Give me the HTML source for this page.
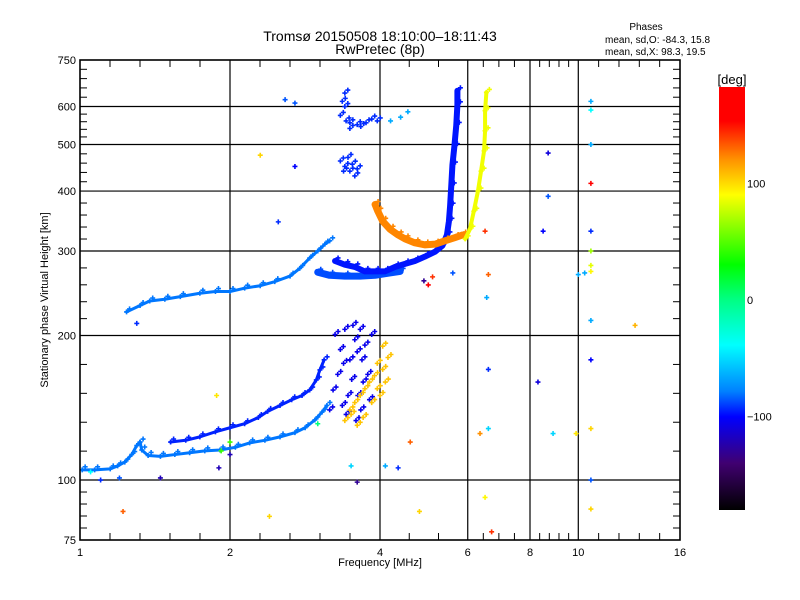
<!DOCTYPE html>
<html><head><meta charset="utf-8"><style>
html,body{margin:0;padding:0;background:#fff;}
svg{display:block;font-family:"Liberation Sans",sans-serif;}
</style></head><body>
<svg id="chart" width="800" height="600" viewBox="0 0 800 600">
<defs>
<linearGradient id="cbg" x1="0" y1="0" x2="0" y2="1">
<stop offset="0" stop-color="#ff0000"/><stop offset="0.08" stop-color="#ff0000"/>
<stop offset="0.17" stop-color="#ff9000"/><stop offset="0.255" stop-color="#ffff00"/>
<stop offset="0.42" stop-color="#00ff00"/><stop offset="0.5" stop-color="#00ff80"/>
<stop offset="0.61" stop-color="#00ffff"/><stop offset="0.72" stop-color="#0080ff"/>
<stop offset="0.78" stop-color="#0000ff"/><stop offset="0.89" stop-color="#400070"/>
<stop offset="1" stop-color="#000000"/></linearGradient>
</defs>
<g id="grid"></g>
<g id="marks"></g>
<g id="frame"></g>
<text x="380" y="41" font-size="14" text-anchor="middle">Tromsø 20150508 18:10:00–18:11:43</text>
<text x="380" y="54" font-size="14" text-anchor="middle">RwPretec (8p)</text>
<text x="646" y="30" font-size="10" text-anchor="middle">Phases</text>
<text x="605" y="43" font-size="10">mean, sd,O: -84.3, 15.8</text>
<text x="605" y="55" font-size="10">mean, sd,X:  98.3, 19.5</text>
<text x="380" y="566" font-size="11" text-anchor="middle">Frequency [MHz]</text>
<text transform="translate(48,300) rotate(-90)" font-size="11" text-anchor="middle">Stationary phase Virtual Height [km]</text>
<rect x="719" y="87" width="26" height="423" fill="url(#cbg)"/>
<text x="732" y="84" font-size="13" text-anchor="middle">[deg]</text>
<g id="cbticks" font-size="11"></g>
</svg>
<script>
// axis ranges
const xTickVals = [1, 2, 4, 6, 8, 10, 16];
const yTickVals = [75, 100, 200, 300, 400, 500, 600, 750];
const xGridVals = [2, 4, 6, 8, 10];
const yGridVals = [100, 200, 300, 400, 500, 600];
const xMinorParts = [5, 5, 3, 4, 5, 5];
const yMinorParts = [5, 5, 5, 5, 5, 5, 5];
const cbTickVals = [100, 0, -100];

// traces: frequency (MHz), height (km), phase (deg)
const eLowFreq = [1.01,1.07,1.15,1.19,1.23,1.27,1.30,1.32,1.33,1.37,1.45,1.55,1.66,1.78,1.91,2.05,2.19,2.35,2.52,2.70,2.83,2.96,3.06,3.13];
const eLowHeight = [105,105,105.5,107,109,113,118,120,115.5,112.5,112,113,114,115,115.5,117,119.5,121,123,125.5,128.5,133.4,138.5,143];
const eLowPhase = -72;
const eUpFreq = [1.52,1.63,1.74,1.87,2.0,2.14,2.28,2.38,2.52,2.66,2.79,2.89,2.98,3.03,3.09];
const eUpHeight = [120,121,123,126,128.5,131,135,139,143,147,150,154,161.6,169.6,178];
const eUpPhase = -92;
const fObFreq = [1.24,1.32,1.38,1.48,1.59,1.74,1.87,2.0,2.14,2.30,2.46,2.64,2.76,2.89,3.0,3.10,3.17];
const fObHeight = [224,231,236,238,241,245,247,247,251,254,259,266,276,290,300,310,315];
const fObPhase = -72;
const fOFreq = [3.25,3.40,3.56,3.73,3.91,4.09,4.29,4.49,4.70,4.92,5.16,5.34,5.45,5.50,5.53,5.56,5.59,5.64,5.69,5.72,5.72];
const fOHeight = [286,281,278,272,272,272,278,282,286,292,299,308,324,346,372,410,453,495,548,605,647];
const fOPhase = -95;
const fBandFreq = [3.0,3.17,3.40,3.65,3.91,4.19,4.39];
const fBandHeight = [271,267,266,266,267,270,272];
const fBandPhase = -82;
const fXFreq = [3.91,3.96,4.05,4.19,4.35,4.49,4.70,4.92,5.16,5.40,5.66,5.86];
const fXHeight = [375,363,346,333,324,318,312,309,310,315,320,324];
const fXPhase = 122;
const fX2Freq = [5.93,6.06,6.17,6.29,6.38,6.47,6.50,6.50,6.54];
const fX2Height = [318,333,363,400,440,485,534,588,642];
const fX2Phase = 84;
const esFreq = [3.25,3.33,3.40,3.48,3.51,3.45,3.29,3.56,3.65,3.68,3.61,3.36,3.73,3.78,3.81,3.22,3.42,3.58,3.17,3.85,3.53,3.66,3.70,3.38,3.60];
const esHeight = [201,187,206,178,162,150,166,196,206,178,150,143,191,166,147,154,137,133,140,201,210,140,160,175,185];
const esPhase = -105;
const esXFreq = [3.40,3.48,3.56,3.65,3.73,3.81,3.90,3.95,4.05,4.10,4.00,3.85,3.70,3.60,3.50,4.15,4.05,3.95];
const esXHeight = [133,140,145,150,155,160,165,175,170,160,150,145,135,130,137,180,190,155];
const esXPhase = 105;
const topFreq = [3.36,3.40,3.33,3.42,3.48,3.60,3.75,3.85,3.95,3.48,3.66,3.40,3.33,3.40,3.48,3.56,3.45,3.52,3.60,3.38];
const topHeight = [615,600,575,560,555,550,555,565,560,540,545,640,462,450,440,430,470,455,445,440];
const topPhase = -90;
const miscFreq = [10.6,10.6,10.6,10.6,10.6,10.6,10.6,10.6,10.6,10.6,10.6,10.6,10.6,8.7,8.7,8.5,10.3,10.0,13,9.9,8.9,8.3,6.5,6.6,6.55,6.35,6.5,6.7,6.6,6.6,5.0,5.1,4.9,5.6,4.6,4.8,2.4,1.45,1.22,1.9,1.92,2.0,2.0,2.7,2.7,2.3,2.5,3.6,3.5,4.1,4.35,3.0,1.88,1.3,1.05,1.1,1.2,4.2,4.4,4.55,2.58];
const miscHeight = [615,590,500,415,330,300,280,272,215,178,128,100,87,480,390,330,270,268,210,125,125,160,330,268,240,125,92,78,128,170,255,265,260,270,120,86,84,101,86,106,115,120,113,610,450,475,345,99,107,107,106,131,150,212,104,100,101,560,570,585,620];
const miscPhase = [-60,-40,-60,160,-90,60,80,90,-60,-100,100,-80,100,-110,-80,-100,-60,-60,110,95,-50,-110,140,130,-60,120,90,140,-50,-90,150,140,-130,-80,130,100,100,-120,130,-120,40,40,-120,-80,-100,100,-90,-130,-50,-60,-90,0,95,-90,-40,-90,-80,-60,-60,-60,-80];

const X0 = 80, X1 = 680, Y0 = 540, Y1 = 60;
const xs = f => X0 + (X1 - X0) * Math.log2(f) / 4;
const ys = h => Y0 - (Y0 - Y1) * Math.log10(h / 75);
const cbY = v => 300 - v * 1.165;
const NS = "http://www.w3.org/2000/svg";
const stops = [[-180,[0,0,0]],[-140,[64,0,112]],[-100,[0,0,255]],[-70,[0,128,255]],[-40,[0,255,255]],[0,[0,255,128]],[28,[0,255,0]],[60,[160,255,0]],[88,[255,255,0]],[120,[255,144,0]],[150,[255,0,0]],[180,[255,0,0]]];
function color(v){
  for(let i=1;i<stops.length;i++){
    if(v<=stops[i][0]){const a=stops[i-1],b=stops[i];const t=(v-a[0])/(b[0]-a[0]);
      const c=a[1].map((x,k)=>Math.round(x+(b[1][k]-x)*t));return `rgb(${c[0]},${c[1]},${c[2]})`;}
  }
  return "rgb(255,0,0)";
}
function mk(tag, attrs, parent){const e=document.createElementNS(NS,tag);for(const k in attrs)e.setAttribute(k,attrs[k]);parent.appendChild(e);return e;}

const grid = document.getElementById('grid');
const frame = document.getElementById('frame');
const marks = document.getElementById('marks');

xGridVals.forEach(v=>{
  const l = mk('line',{x1:xs(v),x2:xs(v),y1:Y1,y2:Y0,stroke:'#000','stroke-width':1.2},grid);
  
  
});
yGridVals.forEach(v=>{
  const l = mk('line',{x1:X0,x2:X1,y1:ys(v),y2:ys(v),stroke:'#000','stroke-width':1.2},grid);
  
  
});
for(let i=0;i<xTickVals.length-1;i++){
  const a=Math.log2(xTickVals[i]), b=Math.log2(xTickVals[i+1]), n=xMinorParts[i];
  for(let k=1;k<n;k++){
    const x = X0+(X1-X0)*(a+(b-a)*k/n)/4;
    mk('line',{x1:x,x2:x,y1:Y0,y2:Y0-7,stroke:'#000','stroke-width':1},frame);
    mk('line',{x1:x,x2:x,y1:Y1,y2:Y1+7,stroke:'#000','stroke-width':1},frame);
  }
}
for(let i=0;i<yTickVals.length-1;i++){
  const a=ys(yTickVals[i]), b=ys(yTickVals[i+1]), n=yMinorParts[i];
  for(let k=1;k<n;k++){
    const y=a+(b-a)*k/n;
    mk('line',{x1:X0,x2:X0+7,y1:y,y2:y,stroke:'#000','stroke-width':1},frame);
    mk('line',{x1:X1,x2:X1-7,y1:y,y2:y,stroke:'#000','stroke-width':1},frame);
  }
}
const fr = mk('rect',{x:X0,y:Y1,width:X1-X0,height:Y0-Y1,fill:'none',stroke:'#000','stroke-width':1.6},frame);


xTickVals.forEach(v=>{
  const t = mk('text',{x:xs(v),y:Y0+16,'font-size':11,'text-anchor':'middle'},frame);
  t.textContent = v;
  
  
});
yTickVals.forEach(v=>{
  const t = mk('text',{x:X0-4,y:ys(v)+4,'font-size':11,'text-anchor':'end'},frame);
  t.textContent = v;
  
  
});
const cbt = document.getElementById('cbticks');
cbTickVals.forEach(v=>{
  const t = mk('text',{x:747,y:cbY(v)+4},cbt);
  t.textContent = v===-100 ? '−100' : v;
  
  
});

function plus(x,y,c,parent){
  const p = mk('path',{d:`M${x-2.5},${y}h5M${x},${y-2.5}v5`,stroke:c,'stroke-width':1.6,fill:'none'},parent);
  
  
}
function trace(name,fr,hs,ph,width){
  const g = mk('g',{},marks);
  
  
  const c = color(ph);
  if(width){
    const pl = mk('polyline',{points:fr.map((f,i)=>xs(f)+','+ys(hs[i])).join(' '),fill:'none',stroke:c,'stroke-width':width,'stroke-linejoin':'round','stroke-linecap':'round'},g);
    
    
  }
  fr.forEach((f,i)=>{plus(xs(f),ys(hs[i]),c,g);plus(xs(f)+3,ys(hs[i])-3,c,g);});
}
trace('e-low-trace',eLowFreq,eLowHeight,eLowPhase,3);
trace('e-upper-trace',eUpFreq,eUpHeight,eUpPhase,3);
trace('f-oblique-trace',fObFreq,fObHeight,fObPhase,3);
trace('f-band-trace',fBandFreq,fBandHeight,fBandPhase,7);
trace('f-o-trace',fOFreq,fOHeight,fOPhase,6);
trace('f-x-trace',fXFreq,fXHeight,fXPhase,7);
trace('f-x2-trace',fX2Freq,fX2Height,fX2Phase,4);
trace('es-o-cluster',esFreq,esHeight,esPhase,0);
trace('es-x-cluster',esXFreq,esXHeight,esXPhase,0);
trace('upper-o-cluster',topFreq,topHeight,topPhase,0);
const mg = mk('g',{},marks);


miscFreq.forEach((f,i)=>plus(xs(f),ys(miscHeight[i]),color(miscPhase[i]),mg));
</script>
</body></html>
